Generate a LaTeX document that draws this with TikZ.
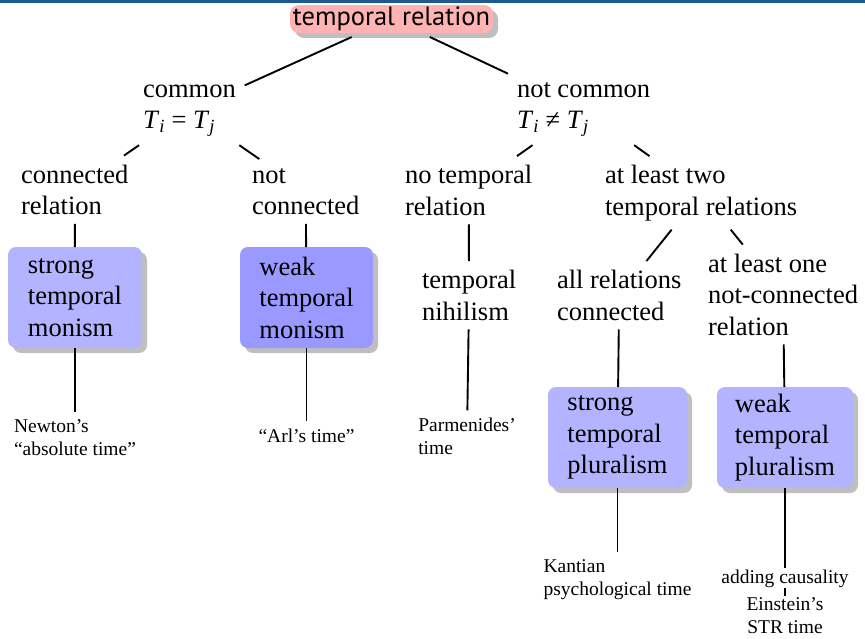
\documentclass[tikz,border=0pt]{standalone}
\usepackage{fontspec}
\setmainfont{Liberation Serif}
\newfontfamily\headfont{PT Sans}
\usetikzlibrary{shadows}
\definecolor{c1f5a8c}{RGB}{31,90,140}
\definecolor{cffb3b3}{RGB}{255,179,179}
\definecolor{cb3b3ff}{RGB}{179,179,255}
\definecolor{c9999ff}{RGB}{153,153,255}
\definecolor{cbfbfbf}{RGB}{191,191,191}
\newcommand\Tsub[1]{\textit{T}\textsubscript{\textit{#1}}}

\tikzset{
  every node/.append style={font=\fontsize{26.5}{31.5}\selectfont},
  txt/.style={align=left, inner sep=4pt, outer sep=5pt},
  note/.style={align=left, inner sep=3pt, outer sep=4pt, font=\fontsize{19.5}{23}\selectfont},
  shade/.style={drop shadow={shadow xshift=5pt, shadow yshift=-5pt, fill=cbfbfbf, opacity=1}},
  kind/.style={shade, fill=cb3b3ff, rounded corners=8pt, align=left, minimum height=101pt, inner sep=0pt, outer sep=0pt},
  root/.style={shade, fill=cffb3b3, rounded corners=9pt, minimum width=203pt, minimum height=28pt, inner sep=0pt, outer sep=4pt, font=\headfont\fontsize{26.5}{30}\selectfont},
  branch/.style={draw=black, line width=1.9pt, line cap=butt}
}

\begin{document}
\begin{tikzpicture}[x=1pt, y=-1pt]
  \useasboundingbox (0,0) rectangle (865,638);
  \fill[c1f5a8c] (0,0) rectangle (865,3);

  % root and first split (base = last line)
  \node[root] (top) at (391.5,19) {temporal relation};
  \node[txt, anchor=base west] (common) at (134,128.5) {common\\\Tsub{i} = \Tsub{j}};
  \node[txt, anchor=base west] (notcommon) at (508,128.5) {not common\\\Tsub{i} ≠ \Tsub{j}};

  % second level
  \node[txt, anchor=base west] (connrel) at (12,214.5) {connected\\relation};
  \node[txt, anchor=base west] (notconn) at (243,214.5) {not\\connected};
  \node[txt, anchor=base west] (notemp) at (396,215) {no temporal\\relation};
  \node[txt, anchor=base west] (tworel) at (596,215) {at least two\\temporal relations};

  % third level
  \node[txt, anchor=base west] (nihil) at (413,320) {temporal\\nihilism};
  \node[txt, anchor=base west] (allconn) at (548,320) {all relations\\connected};
  \node[txt, anchor=base west] (onerel) at (699,335) {at least one\\not-connected\\relation};

  % the four positions
  \node[kind, minimum width=134pt] (monS) at (75,297.5) {strong\\temporal\\monism};
  \node[kind, fill=c9999ff, minimum width=133pt] (monW) at (306.5,297.5) {weak\\temporal\\monism};
  \node[kind, minimum width=139pt] (pluS) at (617.5,437.5) {strong\\temporal\\pluralism};
  \node[kind, minimum width=136pt] (pluW) at (785,437.5) {weak\\temporal\\pluralism};

  % examples, centred under their parents
  \node[note, anchor=base] (newton) at (75,455) {Newton’s\\“absolute time”};
  \node[note, anchor=base] (arl) at (306.5,442) {“Arl’s time”};
  \node[note, anchor=base] (parm) at (467,454) {Parmenides’\\time};
  \node[note, anchor=base] (kant) at (617.5,595) {Kantian\\psychological time};
  \node[note, anchor=base, inner ysep=1pt, outer sep=0pt] (adding) at (785,583) {adding causality};
  \node[note, anchor=base, align=center, inner ysep=1pt, outer sep=0pt] (einstein) at (785,633) {Einstein’s\\STR time};

  \foreach \a/\b in {top/common, top/notcommon, common/connrel, common/notconn,
      notcommon/notemp, notcommon/tworel, connrel/monS, notconn/monW,
      notemp/nihil, tworel/allconn, tworel/onerel, allconn/pluS, onerel/pluW,
      monS/newton, monW/arl, nihil/parm, pluS/kant, pluW/adding, adding/einstein}
    \draw[branch] (\a) -- (\b);
\end{tikzpicture}
\end{document}
